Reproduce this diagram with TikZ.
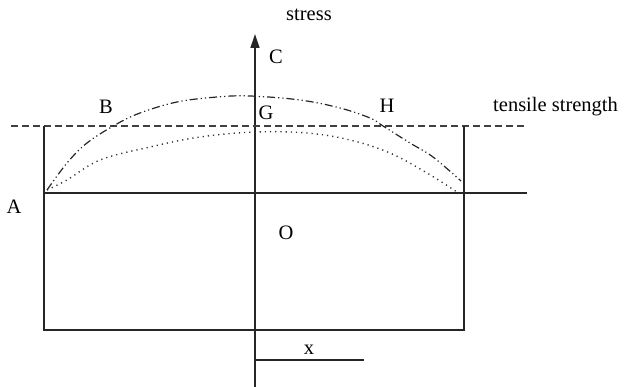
\documentclass[tikz,border=0pt]{standalone}
\usepackage{fontspec}
\setmainfont{Liberation Serif}
\usetikzlibrary{arrows.meta}
\begin{document}
\begin{tikzpicture}[x=1pt,y=-1pt,
  lbl/.style={inner sep=0pt,font=\fontsize{20.5}{24}\selectfont},
  solidline/.style={line width=1.3pt,black!85},
  dashline/.style={line width=1.3pt,black!75,dash pattern=on 7pt off 4pt},
  dashdotcurve/.style={line width=1.2pt,black!85,dash pattern=on 8pt off 3pt on 1.2pt off 3pt on 1.2pt off 3pt},
  dotcurve/.style={line width=1.4pt,black!80,dash pattern=on 1.2pt off 4pt}]
\useasboundingbox (0,0) rectangle (625,387);
% axes and frame
\coordinate (axb) at (255,387);
\coordinate (axt) at (255,34);
\draw[solidline,-{Triangle[length=14pt,width=9pt]}] (axb) -- (axt);
\coordinate (d1) at (11,126);
\coordinate (d2) at (527,126);
\draw[dashline] (d1) -- (d2);
\coordinate (h1) at (44,193);
\coordinate (h2) at (527,193);
\draw[solidline] (h1) -- (h2);
\coordinate (lt) at (44,126);
\coordinate (lb) at (44,330);
\coordinate (rb) at (463,330);
\coordinate (rt) at (464,126);
\coordinate (rbb) at (464,331);
\draw[solidline] (lt) -- (lb) -- (rb);
\draw[solidline] (rt) -- (rbb);
\coordinate (x1) at (255,360);
\coordinate (x2) at (364,360);
\draw[solidline] (x1) -- (x2);
% curves
\draw[dashdotcurve] plot[smooth,tension=0.6] coordinates {(47,190) (67,163) (87,143) (115,125) (140,113) (177,102) (217,97) (250,96) (300,100) (340,108) (370,118) (383,126) (410,143) (433,157) (461,181)};
\draw[dotcurve] plot[smooth,tension=0.6] coordinates {(47,190) (67,180) (100,160) (150,147) (200,137) (255,132) (307,133) (350,140) (390,153) (427,173) (457,192)};
% labels
\node[lbl] (stress) at (309,15) {stress};
\node[lbl] (C) at (276,57) {C};
\node[lbl] (B) at (106,107) {B};
\node[lbl] (G) at (266,113) {G};
\node[lbl] (H) at (387,106) {H};
\node[lbl,anchor=west] (ts) at (493,107) {tensile strength};
\node[lbl] (A) at (14,207) {A};
\node[lbl] (O) at (286,233) {O};
\node[lbl] (x) at (309,350) {x};
\end{tikzpicture}
\end{document}
